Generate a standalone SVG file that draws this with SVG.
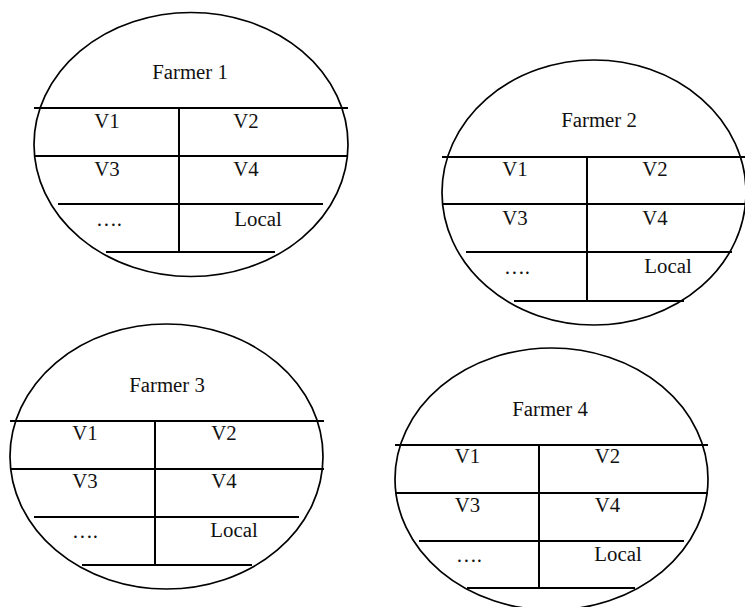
<svg xmlns="http://www.w3.org/2000/svg" width="745" height="607" viewBox="0 0 745 607">
<style>
.o{fill:none;stroke:#000;stroke-width:1.7}
.l{stroke:#000;stroke-width:2;fill:none}
.t{font-size:20.8px;fill:#111;text-anchor:middle}
</style>
<rect width="745" height="607" fill="#fff"/>
<g id="farmer1" font-family="'Liberation Serif', 'DejaVu Serif', serif">
<ellipse class="o" cx="191" cy="144.5" rx="157" ry="132"/>
<path class="l" d="M34 108H348M34 156H348M58 204H323M106 252H275M179 108V252"/>
<text class="t" x="190" y="79">Farmer 1</text>
<text class="t" x="107" y="128">V1</text>
<text class="t" x="246" y="128">V2</text>
<text class="t" x="107" y="176">V3</text>
<text class="t" x="246" y="176">V4</text>
<text class="t" x="109" y="226">….</text>
<text class="t" x="258" y="226">Local</text>
</g>
<g id="farmer2" font-family="'Liberation Serif', 'DejaVu Serif', serif">
<ellipse class="o" cx="594" cy="192.5" rx="152" ry="132.5"/>
<path class="l" d="M442 157H745M442 204H745M466 252H732M514 301H684M587 157V301"/>
<text class="t" x="599" y="127">Farmer 2</text>
<text class="t" x="515" y="176">V1</text>
<text class="t" x="655" y="176">V2</text>
<text class="t" x="515" y="225">V3</text>
<text class="t" x="655" y="225">V4</text>
<text class="t" x="517" y="274">….</text>
<text class="t" x="668" y="273">Local</text>
</g>
<g id="farmer3" font-family="'Liberation Serif', 'DejaVu Serif', serif">
<ellipse class="o" cx="166.5" cy="456.5" rx="156.5" ry="132.5"/>
<path class="l" d="M10 421H324M10 469H324M34 517H299M82 565H252M155 421V565"/>
<text class="t" x="167" y="392">Farmer 3</text>
<text class="t" x="85" y="440">V1</text>
<text class="t" x="224" y="440">V2</text>
<text class="t" x="85" y="488">V3</text>
<text class="t" x="224" y="488">V4</text>
<text class="t" x="85" y="538">….</text>
<text class="t" x="234" y="537">Local</text>
</g>
<g id="farmer4" font-family="'Liberation Serif', 'DejaVu Serif', serif">
<ellipse class="o" cx="551.5" cy="479" rx="156.5" ry="131"/>
<path class="l" d="M395 445H708M395 493H708M419 541H684M467 588H635M539 445V588"/>
<text class="t" x="550" y="416">Farmer 4</text>
<text class="t" x="467.5" y="463">V1</text>
<text class="t" x="607.5" y="463">V2</text>
<text class="t" x="467.5" y="512">V3</text>
<text class="t" x="607.5" y="512">V4</text>
<text class="t" x="469" y="562">….</text>
<text class="t" x="618" y="561">Local</text>
</g>
</svg>
